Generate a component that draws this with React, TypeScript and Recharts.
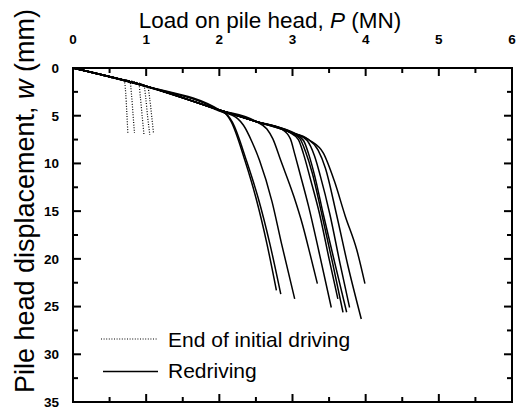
import React from 'react';
import { LineChart, Line, XAxis, YAxis, ReferenceArea } from 'recharts';

const FONT = '"Liberation Sans", Arial, Helvetica, sans-serif';
const PLOT_LEFT = 73;
const PLOT_TOP = 68;
const PLOT_RIGHT = 512;
const PLOT_BOTTOM = 402;
const X_MAX = 6;
const Y_MAX = 35;

const X_TICKS = [0, 0.5, 1, 1.5, 2, 2.5, 3, 3.5, 4, 4.5, 5, 5.5, 6];
const Y_TICKS = [0, 2.5, 5, 7.5, 10, 12.5, 15, 17.5, 20, 22.5, 25, 27.5, 30, 32.5, 35];

// End of initial driving (dotted)
const eoid1 = [
  { p: 0, w: 0 }, { p: 0.5, w: 0.95 }, { p: 0.7, w: 1.35 }, { p: 0.72, w: 2.6 }, { p: 0.735, w: 4.6 }, { p: 0.75, w: 6.9 },
];
const eoid2 = [
  { p: 0, w: 0 }, { p: 0.5, w: 0.95 }, { p: 0.78, w: 1.5 }, { p: 0.8, w: 2.8 }, { p: 0.82, w: 4.8 }, { p: 0.84, w: 6.8 },
];
const eoid3 = [
  { p: 0, w: 0 }, { p: 0.5, w: 0.95 }, { p: 0.9, w: 1.7 }, { p: 0.92, w: 3.0 }, { p: 0.945, w: 5.0 }, { p: 0.97, w: 7.0 },
];
const eoid4 = [
  { p: 0, w: 0 }, { p: 0.5, w: 0.95 }, { p: 0.97, w: 1.85 }, { p: 0.995, w: 3.2 }, { p: 1.02, w: 5.1 }, { p: 1.05, w: 7.0 },
];
const eoid5 = [
  { p: 0, w: 0 }, { p: 0.5, w: 0.95 }, { p: 1.02, w: 1.95 }, { p: 1.05, w: 3.3 }, { p: 1.075, w: 5.0 }, { p: 1.1, w: 6.8 },
];

// Redriving (solid)
const red1 = [
  { p: 0, w: 0 }, { p: 1, w: 1.9 }, { p: 2, w: 4.4 }, { p: 2.1, w: 4.9 }, { p: 2.16, w: 5.6 }, { p: 2.35, w: 9.7 },
  { p: 2.5, w: 13.6 }, { p: 2.65, w: 18.4 }, { p: 2.78, w: 23.3 },
];
const red2 = [
  { p: 0, w: 0 }, { p: 1, w: 1.92 }, { p: 2, w: 4.45 }, { p: 2.12, w: 5.0 }, { p: 2.18, w: 5.7 }, { p: 2.37, w: 9.7 },
  { p: 2.53, w: 13.6 }, { p: 2.69, w: 18.4 }, { p: 2.84, w: 23.7 },
];
const red3 = [
  { p: 0, w: 0 }, { p: 1, w: 1.95 }, { p: 2, w: 4.5 }, { p: 2.25, w: 5.3 }, { p: 2.33, w: 6.0 }, { p: 2.45, w: 7.8 },
  { p: 2.55, w: 9.7 }, { p: 2.72, w: 14 }, { p: 2.85, w: 18.4 }, { p: 3.03, w: 24.2 },
];
const red4 = [
  { p: 0, w: 0 }, { p: 1, w: 1.95 }, { p: 2, w: 4.4 }, { p: 2.5, w: 5.6 }, { p: 2.65, w: 6.4 }, { p: 2.73, w: 7.4 },
  { p: 2.84, w: 9.7 }, { p: 3.02, w: 13.5 }, { p: 3.14, w: 16.5 }, { p: 3.24, w: 19.5 }, { p: 3.34, w: 22.6 },
];
const red5 = [
  { p: 0, w: 0 }, { p: 1, w: 1.9 }, { p: 2, w: 4.4 }, { p: 2.5, w: 5.6 }, { p: 2.85, w: 6.4 }, { p: 2.97, w: 7.4 },
  { p: 3.03, w: 9.0 }, { p: 3.1, w: 11 }, { p: 3.22, w: 14.5 }, { p: 3.36, w: 19.2 }, { p: 3.53, w: 25.1 },
];
const red6 = [
  { p: 0, w: 0 }, { p: 1, w: 1.9 }, { p: 2, w: 4.4 }, { p: 2.5, w: 5.6 }, { p: 2.95, w: 6.7 }, { p: 3.1, w: 7.4 },
  { p: 3.18, w: 8.8 }, { p: 3.27, w: 11 }, { p: 3.4, w: 15.3 }, { p: 3.55, w: 20.5 }, { p: 3.69, w: 25.6 },
];
const red7 = [
  { p: 0, w: 0 }, { p: 1, w: 1.9 }, { p: 2, w: 4.4 }, { p: 2.5, w: 5.6 }, { p: 3.0, w: 6.8 }, { p: 3.15, w: 7.6 },
  { p: 3.22, w: 9 }, { p: 3.3, w: 11.2 }, { p: 3.42, w: 15.3 }, { p: 3.58, w: 20.5 }, { p: 3.74, w: 25.6 },
];
const red8 = [
  { p: 0, w: 0 }, { p: 1, w: 1.9 }, { p: 2, w: 4.4 }, { p: 2.5, w: 5.6 }, { p: 2.95, w: 6.7 }, { p: 3.08, w: 7.5 },
  { p: 3.15, w: 9 }, { p: 3.24, w: 11.5 }, { p: 3.37, w: 15.3 }, { p: 3.5, w: 20 }, { p: 3.62, w: 24.2 },
];
const red9 = [
  { p: 0, w: 0 }, { p: 1, w: 1.9 }, { p: 2, w: 4.4 }, { p: 2.5, w: 5.6 }, { p: 3.05, w: 6.9 }, { p: 3.2, w: 7.6 },
  { p: 3.3, w: 9.2 }, { p: 3.38, w: 11.3 }, { p: 3.51, w: 15.3 }, { p: 3.65, w: 20.5 }, { p: 3.78, w: 25.1 },
];
const red10 = [
  { p: 0, w: 0 }, { p: 1, w: 1.9 }, { p: 2, w: 4.4 }, { p: 2.5, w: 5.6 }, { p: 3.0, w: 6.8 }, { p: 3.2, w: 7.4 },
  { p: 3.35, w: 8.6 }, { p: 3.45, w: 10.5 }, { p: 3.6, w: 15.3 }, { p: 3.76, w: 20.8 }, { p: 3.94, w: 26.3 },
];
const red11 = [
  { p: 0, w: 0 }, { p: 1, w: 1.9 }, { p: 2, w: 4.4 }, { p: 2.5, w: 5.6 }, { p: 3.0, w: 6.8 }, { p: 3.24, w: 7.6 },
  { p: 3.42, w: 8.9 }, { p: 3.57, w: 11.8 }, { p: 3.72, w: 15.5 }, { p: 3.88, w: 19.1 }, { p: 3.99, w: 22.6 },
];

const initialDriving = [eoid1, eoid2, eoid3, eoid4, eoid5];
const redriving = [red1, red2, red3, red4, red5, red6, red7, red8, red9, red10, red11];

const tickText = { fontFamily: FONT, fontSize: 13.5, fontWeight: 700, fill: '#000' };

// inward ticks top and bottom; labels only on the whole numbers
const XTick = (props: any) => {
  const { x, payload } = props;
  const major = Number.isInteger(payload.value);
  const len = major ? 8 : 5;
  return (
    <g>
      <path d={`M${x},${PLOT_TOP}L${x},${PLOT_TOP + len}`} stroke="black" strokeWidth={2} />
      <path d={`M${x},${PLOT_BOTTOM}L${x},${PLOT_BOTTOM - len}`} stroke="black" strokeWidth={2} />
      {major && <text x={x} y={44} textAnchor="middle" style={tickText}>{payload.value}</text>}
    </g>
  );
};

// inward ticks left and right; labels every 5 mm
const YTick = (props: any) => {
  const { y, payload } = props;
  const major = payload.value % 5 === 0;
  const len = major ? 8 : 5;
  return (
    <g>
      <path d={`M${PLOT_LEFT},${y}L${PLOT_LEFT + len},${y}`} stroke="black" strokeWidth={2} />
      <path d={`M${PLOT_RIGHT},${y}L${PLOT_RIGHT - len},${y}`} stroke="black" strokeWidth={2} />
      {major && (
        <text x={59} y={y} dy="0.36em" textAnchor="end" style={tickText}>{payload.value}</text>
      )}
    </g>
  );
};

const XTitle = () => (
  <text x={270} y={28} textAnchor="middle" style={{ fontFamily: FONT, fontSize: 22.5, fill: '#000' }}>
    Load on pile head, <tspan fontStyle="italic">P</tspan> (MN)
  </text>
);

const YTitle = () => (
  <text
    x={34}
    y={201}
    textAnchor="middle"
    transform="rotate(-90, 34, 201)"
    style={{ fontFamily: FONT, fontSize: 27, fill: '#000' }}
  >
    Pile head displacement, <tspan fontStyle="italic">w</tspan> (mm)
  </text>
);

const legendText = { fontFamily: FONT, fontSize: 21, fill: '#000' };

export default function App() {
  const axisLine = { stroke: 'black', strokeWidth: 2 };
  return (
    <div style={{ position: 'absolute', left: 0, top: 0 }}>
      <LineChart width={526} height={410} margin={{ top: 0, right: 14, bottom: 8, left: 0 }}>
        <XAxis
          dataKey="p"
          type="number"
          orientation="top"
          domain={[0, X_MAX]}
          ticks={X_TICKS}
          interval={0}
          height={68}
          stroke="black"
          axisLine={axisLine}
          tickLine={false}
          tick={<XTick />}
          label={<XTitle />}
        />
        <YAxis
          type="number"
          reversed
          domain={[0, Y_MAX]}
          ticks={Y_TICKS}
          interval={0}
          width={73}
          stroke="black"
          axisLine={axisLine}
          tickLine={false}
          tick={<YTick />}
          label={<YTitle />}
        />
        <ReferenceArea
          x1={0}
          x2={X_MAX}
          y1={0}
          y2={Y_MAX}
          fill="#ffffff"
          fillOpacity={0}
          stroke="black"
          strokeWidth={2}
          strokeOpacity={1}
        />
        {initialDriving.map((c, i) => (
          <Line
            key={`e${i}`}
            data={c}
            dataKey="w"
            type="monotone"
            stroke="#000"
            strokeWidth={1.2}
            strokeDasharray="1 1.6"
            dot={false}
            isAnimationActive={false}
          />
        ))}
        {redriving.map((c, i) => (
          <Line
            key={`r${i}`}
            data={c}
            dataKey="w"
            type="monotone"
            stroke="#000"
            strokeWidth={1.5}
            dot={false}
            isAnimationActive={false}
          />
        ))}
        <g>
          <path d="M101,339L157,339" stroke="#000" strokeWidth={1.2} strokeDasharray="1 1.6" />
          <text x={168} y={346.5} style={legendText}>End of initial driving</text>
          <path d="M103,371.5L158,371.5" stroke="#000" strokeWidth={1.5} />
          <text x={168} y={378} style={legendText}>Redriving</text>
        </g>
      </LineChart>
    </div>
  );
}
